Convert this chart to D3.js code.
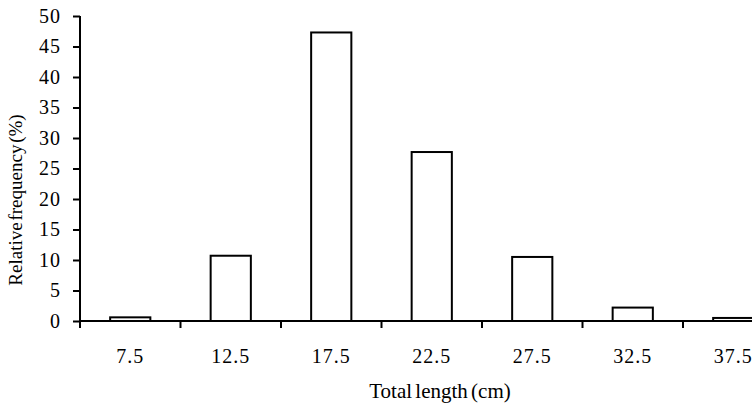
<!DOCTYPE html>
<html>
  <head>
    <meta charset="utf-8" />
    <title>Total length frequency</title>
    <script src="https://d3js.org/d3.v7.min.js" charset="utf-8"></script>
    <style>
      body { margin: 0; background: #fff; }
      text { font-family: "Liberation Serif", "Times New Roman", serif; fill: #000; }
    </style>
  </head>
  <body>
    <svg id="canvas" width="752" height="406"></svg>
    <script>
      // size classes (cm) and relative frequency (%)
      var lengthClasses = ["7.5", "12.5", "17.5", "22.5", "27.5", "32.5", "37.5"];
      var frequencies = [0.6, 10.7, 47.3, 27.7, 10.5, 2.2, 0.5];
      var yTicks = [0, 5, 10, 15, 20, 25, 30, 35, 40, 45, 50];

      var canvas = d3.select("#canvas");

      var plotLeft = 80, plotTop = 16, plotBottom = 321;
      var step = 100.5;

      var x = d3
        .scaleBand()
        .domain(lengthClasses)
        .range([plotLeft, plotLeft + step * lengthClasses.length])
        .paddingInner(0.6)
        .paddingOuter(0.3);

      var y = d3.scaleLinear().domain([0, 50]).range([plotBottom, plotTop]);

      // bars
      canvas
        .selectAll("rect.bar")
        .data(frequencies)
        .enter()
        .append("rect")
        .attr("class", "bar")
        .attr("x", function (d, i) { return x(lengthClasses[i]); })
        .attr("y", function (d) { return y(d); })
        .attr("width", x.bandwidth())
        .attr("height", function (d) { return y(0) - y(d); })
        .attr("fill", "#fff")
        .attr("stroke", "#000")
        .attr("stroke-width", 2);

      // y axis
      var yAxis = canvas
        .append("g")
        .attr("transform", "translate(" + plotLeft + ",0)")
        .call(d3.axisLeft(y).tickValues(yTicks).tickSize(7).tickPadding(12));
      yAxis.select(".domain").attr("d", "M0," + plotTop + "V" + (plotBottom + 7)).attr("stroke-width", 2);
      yAxis.selectAll(".tick line").attr("stroke-width", 2);
      yAxis.selectAll(".tick text")
        .style("font-size", "20px")
        .style("letter-spacing", "1px");

      // x axis: ticks at class boundaries
      var boundaries = d3.range(lengthClasses.length + 1).map(function (i) {
        return plotLeft + i * x.step();
      });
      canvas
        .append("line")
        .attr("x1", plotLeft)
        .attr("x2", 752)
        .attr("y1", plotBottom)
        .attr("y2", plotBottom)
        .attr("stroke", "#000")
        .attr("stroke-width", 2);
      canvas
        .selectAll("line.xtick")
        .data(boundaries)
        .enter()
        .append("line")
        .attr("class", "xtick")
        .attr("x1", function (d) { return d; })
        .attr("x2", function (d) { return d; })
        .attr("y1", plotBottom)
        .attr("y2", plotBottom + 7)
        .attr("stroke", "#000")
        .attr("stroke-width", 2);
      canvas
        .selectAll("text.xlabel")
        .data(lengthClasses)
        .enter()
        .append("text")
        .attr("class", "xlabel")
        .attr("x", function (d) { return x(d) + x.bandwidth() / 2; })
        .attr("y", 363)
        .attr("text-anchor", "middle")
        .style("font-size", "20px")
        .style("letter-spacing", "1px")
        .text(function (d) { return d; });

      // axis titles
      canvas
        .append("text")
        .attr("x", 440)
        .attr("y", 398)
        .attr("text-anchor", "middle")
        .style("font-size", "21px")
        .style("word-spacing", "-2px")
        .text("Total length (cm)");

      canvas
        .append("text")
        .attr("transform", "translate(22,200) rotate(-90)")
        .attr("text-anchor", "middle")
        .style("font-size", "19px")
        .style("word-spacing", "-3px")
        .text("Relative frequency (%)");
    </script>
  </body>
</html>
